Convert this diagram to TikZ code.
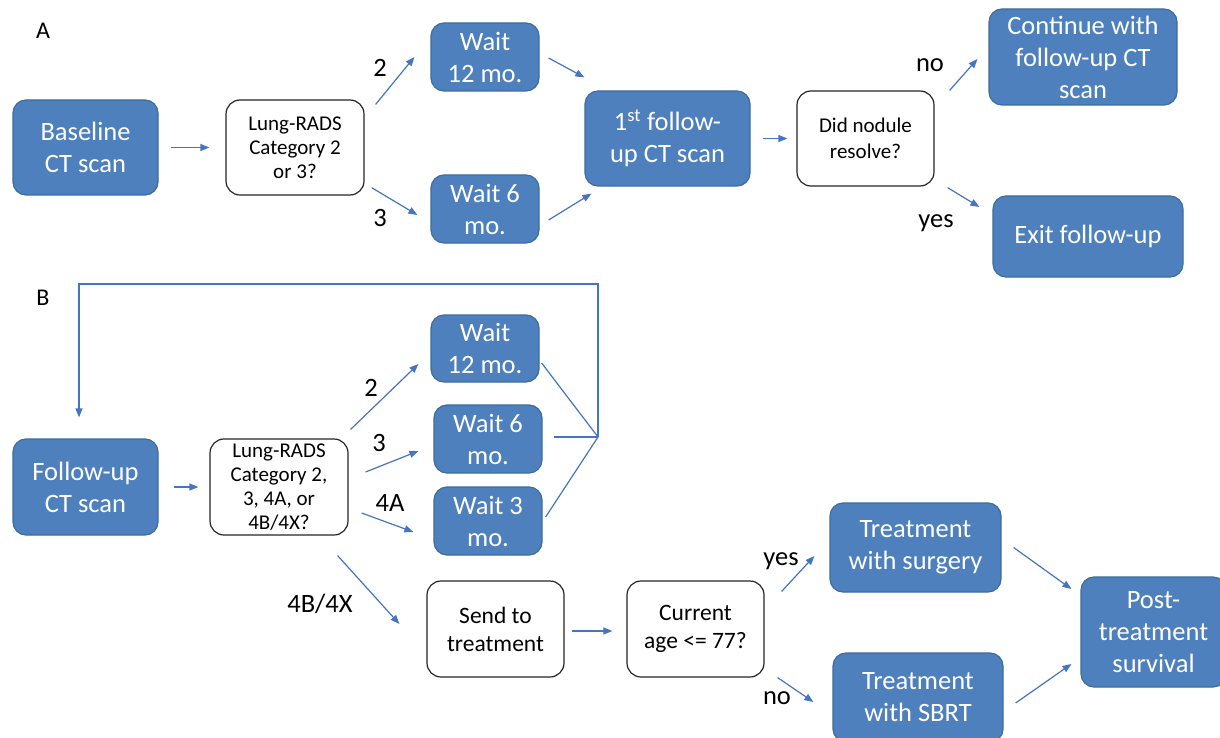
\documentclass[tikz,border=0pt]{standalone}
\usepackage{fontspec}
\setmainfont{Carlito}
\usetikzlibrary{calc,arrows.meta}
\definecolor{boxblue}{HTML}{4E80BD}
\definecolor{boxedge}{HTML}{3D6D9E}
\definecolor{arrblue}{HTML}{4674C0}
\tikzset{
  bluebox/.style={rectangle,rounded corners=13pt,fill=boxblue,draw=boxedge,line width=1.2pt,
    text=white,align=center,inner sep=0pt,font=\fontsize{26.5}{32}\selectfont},
  whitebox/.style={rectangle,rounded corners=14pt,fill=white,draw=black!85,line width=1.2pt,
    text=black,align=center,inner sep=0pt},
  arr/.style={draw=arrblue,line width=1.2pt,-{Triangle[length=9pt,width=7pt]}},
  ln/.style={draw=arrblue,line width=1.2pt},
  lbl/.style={font=\fontsize{26.5}{30}\selectfont,text=black,inner sep=0pt},
  sz/.style n args={2}{minimum width=#1pt,minimum height=#2pt}
}
\begin{document}
\begin{tikzpicture}[x=1pt,y=-1pt]
\clip (0,0) rectangle (1220,738);
\fill[white] (0,0) rectangle (1220,738);
% ---------- A ----------
\node[lbl,font=\fontsize{24}{28}\selectfont] (labA) at (43,31) {A};
\node[bluebox,sz={145}{95}] (base) at (85.5,147.5) {Baseline\\CT scan};
\node[whitebox,sz={138}{95},font=\fontsize{21}{24}\selectfont] (lr1) at (295,147.5) {Lung-RADS\\Category 2\\or 3?};
\node[bluebox,sz={108}{68}] (w12a) at (485,57) {Wait\\12 mo.};
\node[bluebox,sz={108}{68}] (w6a) at (485,209) {Wait 6\\mo.};
\node[bluebox,sz={165}{95}] (fu1) at (667.5,138.5) {1\textsuperscript{st} follow-\\up CT scan};
\node[whitebox,sz={137}{95},font=\fontsize{21}{26}\selectfont] (dn) at (865.5,138.5) {Did nodule\\resolve?};
\node[bluebox,sz={188}{96}] (cont) at (1083,57) {Continue with\\follow-up CT\\scan};
\node[bluebox,sz={190}{81}] (exit) at (1088,236.5) {Exit follow-up};

\draw[arr] ($(base.east)+(12,0)$) -- ($(lr1.west)+(-16,0)$);
\draw[arr] ($(lr1.north east)+(11,5)$) -- ($(w12a.west)+(-16,0)$);
\draw[arr] ($(lr1.south east)+(7,-8)$) -- ($(w6a.west)+(-13,6)$);
\draw[arr] ($(w12a.east)+(9,1)$) -- ($(fu1.north west)+(0,-13)$);
\draw[arr] ($(w6a.east)+(9,11)$) -- ($(fu1.south west)+(7,7)$);
\draw[arr] ($(fu1.east)+(12,0)$) -- ($(dn.west)+(-9,0)$);
\draw[arr] ($(dn.north east)+(15,0)$) -- ($(cont.west)+(-11,2)$);
\draw[arr] ($(dn.south east)+(13,1)$) -- ($(exit.west)+(-13,-29.5)$);

\node[lbl] (l2a) at (380,68) {2};
\node[lbl] (l3a) at (380,218) {3};
\node[lbl] (lnoa) at (930,65) {no};
\node[lbl] (lyesa) at (936,223) {yes};

% ---------- B ----------
\node[lbl,font=\fontsize{24}{28}\selectfont] (labB) at (43,298) {B};
\node[bluebox,sz={145}{96}] (fu) at (85.5,487) {Follow-up\\CT scan};
\node[whitebox,sz={138}{96},font=\fontsize{21}{24}\selectfont] (lr2) at (279,487) {Lung-RADS\\Category 2,\\3, 4A, or\\4B/4X?};
\node[bluebox,sz={108}{67}] (w12b) at (485,348.5) {Wait\\12 mo.};
\node[bluebox,sz={108}{68}] (w6b) at (488,439) {Wait 6\\mo.};
\node[bluebox,sz={108}{68}] (w3b) at (488,521) {Wait 3\\mo.};
\node[whitebox,sz={137}{96},font=\fontsize{23.5}{28}\selectfont] (send) at (495.5,629) {Send to\\treatment};
\node[whitebox,sz={137}{96},font=\fontsize{23.5}{28}\selectfont] (age) at (695.5,629) {Current\\age <= 77?};
\node[bluebox,sz={171}{89}] (surg) at (915.5,547.5) {Treatment\\with surgery};
\node[bluebox,sz={170}{89}] (sbrt) at (918,697.5) {Treatment\\with SBRT};
\node[bluebox,sz={145}{110}] (post) at (1153.5,632) {Post-\\treatment\\survival};

\coordinate (J) at (598,437);
\coordinate (loopR) at (598,284);
\coordinate (loopL) at (79,284);
\draw[ln] ($(w12b.east)+(2,14.5)$) -- (J);
\draw[ln] ($(w6b.east)+(11,-2)$) -- (J);
\draw[ln] ($(w3b.east)+(3,-4)$) -- (J);
\draw[arr] (J) -- (loopR) -- (loopL) -- ($(fu.north)+(-6.5,-21)$);

\draw[arr] ($(fu.east)+(15,0)$) -- ($(lr2.west)+(-11,0)$);
\draw[arr] ($(lr2.north east)+(2,-9)$) -- ($(w12b.west)+(-12,15.5)$);
\draw[arr] ($(lr2.east)+(17,-15)$) -- ($(w6b.west)+(-15,12)$);
\draw[arr] ($(lr2.east)+(13,26)$) -- ($(w3b.west)+(-20,11)$);
\draw[arr] ($(lr2.south east)+(-11,20)$) -- ($(send.west)+(-27,-5)$);
\draw[arr] ($(send.east)+(7,2)$) -- ($(age.west)+(-14,2)$);
\draw[arr] ($(age.north east)+(17,11)$) -- ($(surg.west)+(-15,8.5)$);
\draw[arr] ($(age.south east)+(13,0)$) -- ($(sbrt.west)+(-19,4.5)$);
\draw[arr] ($(surg.east)+(12,0)$) -- ($(post.west)+(-9,-43)$);
\draw[arr] ($(sbrt.east)+(12,5.5)$) -- ($(post.west)+(-9,32)$);

\node[lbl] (l2b) at (371,388) {2};
\node[lbl] (l3b) at (379,443) {3};
\node[lbl] (l4a) at (390,503) {4A};
\node[lbl] (l4b) at (320,604) {4B/4X};
\node[lbl] (lyesb) at (781,561) {yes};
\node[lbl] (lnob) at (777,698) {no};
\end{tikzpicture}
\end{document}
